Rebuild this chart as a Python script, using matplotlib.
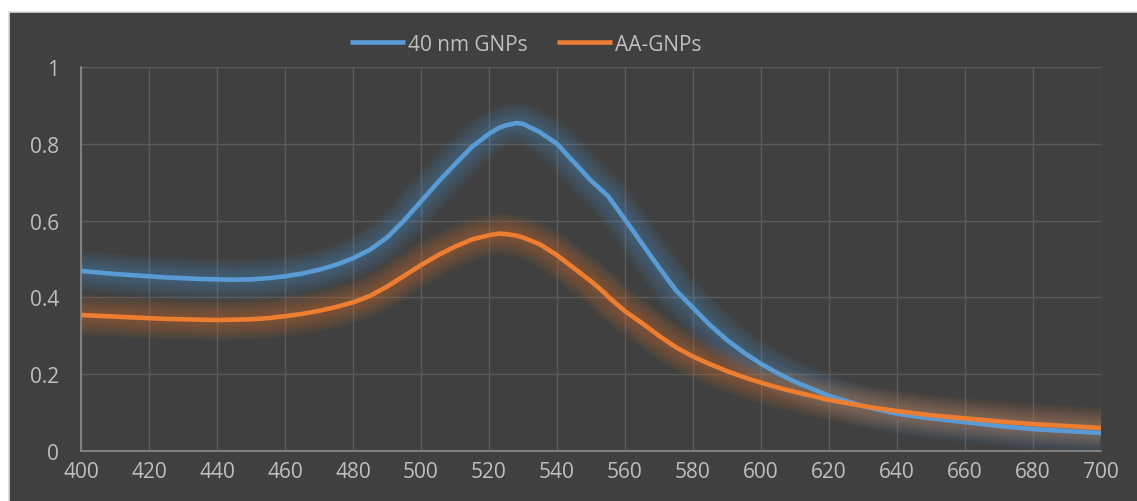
import numpy as np
import matplotlib.pyplot as plt
from matplotlib.patches import Rectangle

# Absorbance spectra (wavelength in nm)
wavelength = [400, 405, 410, 415, 420, 425, 430, 435, 440, 445, 450, 455, 460, 465,
              470, 475, 480, 485, 490, 495, 500, 505, 510, 515, 520, 523, 525, 528,
              530, 535, 540, 545, 550, 554, 555, 560, 565, 570, 575, 580, 585, 590,
              595, 600, 605, 610, 620, 630, 640, 650, 660, 670, 680, 690, 700]
gnp_40nm = [0.469, 0.465, 0.461, 0.458, 0.455, 0.452, 0.450, 0.448, 0.447, 0.446, 0.447, 0.450,
            0.455, 0.462, 0.472, 0.485, 0.502, 0.524, 0.556, 0.600, 0.650, 0.700, 0.747, 0.792,
            0.826, 0.842, 0.848, 0.854, 0.852, 0.830, 0.800, 0.752, 0.704, 0.672, 0.664, 0.603,
            0.540, 0.478, 0.418, 0.373, 0.328, 0.289, 0.256, 0.227, 0.202, 0.180, 0.144, 0.117,
            0.097, 0.085, 0.075, 0.065, 0.057, 0.052, 0.047]
aa_gnp = [0.354, 0.352, 0.350, 0.348, 0.346, 0.344, 0.343, 0.342, 0.341, 0.342, 0.343, 0.346,
          0.351, 0.357, 0.365, 0.375, 0.387, 0.404, 0.428, 0.456, 0.484, 0.510, 0.532, 0.551,
          0.562, 0.566, 0.565, 0.561, 0.556, 0.538, 0.510, 0.476, 0.442, 0.412, 0.402, 0.364,
          0.333, 0.300, 0.270, 0.246, 0.226, 0.208, 0.192, 0.178, 0.165, 0.154, 0.133, 0.117,
          0.104, 0.093, 0.085, 0.077, 0.070, 0.065, 0.060]

series_names = ['40 nm GNPs', 'AA-GNPs']
series_colors = ['#5b9bd5', '#ed7d31']

plt.rcParams['font.family'] = ['Open Sans', 'DejaVu Sans']

fig = plt.figure(figsize=(11.37, 5.02), dpi=100, facecolor='white')

# dark chart area with a thin light border, kept behind the axes
fig.patches.append(Rectangle((9 / 1137, -0.01), 1.0, (502 - 13) / 502 + 0.01,
                             transform=fig.transFigure, facecolor='#404040',
                             edgecolor='#d9d9d9', lw=1.2, zorder=-10))

ax = fig.add_axes([81 / 1137, 50 / 502, 1020 / 1137, 384 / 502])
ax.set_facecolor('none')

for vals, name, color in zip([gnp_40nm, aa_gnp], series_names, series_colors):
    # soft glow around each line: stacked wide, faint strokes
    for w in np.linspace(30, 7, 12):
        ax.plot(wavelength, vals, color=color, lw=w, alpha=0.035,
                solid_capstyle='butt', solid_joinstyle='round', zorder=2)
    ax.plot(wavelength, vals, color=color, lw=3.3, label=name,
            solid_capstyle='butt', solid_joinstyle='round', zorder=3)

ax.set_xlim(400, 700)
ax.set_ylim(0, 1)
ax.set_xticks(np.arange(400, 701, 20))
ax.set_yticks(np.arange(0, 1.01, 0.2))
ax.set_yticklabels(['0', '0.2', '0.4', '0.6', '0.8', '1'])
ax.grid(True, color='#5a5a5a', lw=1)
ax.set_axisbelow(True)
ax.tick_params(length=0, colors='#bfbfbf', labelsize=15)
ax.tick_params(axis='x', pad=7)
ax.tick_params(axis='y', pad=16)
for side in ['top', 'right']:
    ax.spines[side].set_visible(False)
for side in ['left', 'bottom']:
    ax.spines[side].set_color('#8c8c8c')
    ax.spines[side].set_linewidth(1.2)

fig.legend(loc='center', bbox_to_anchor=(0.4626, 0.91), ncol=2, frameon=False,
           fontsize=15, labelcolor='#bfbfbf', handlelength=2.65, handletextpad=0.15,
           columnspacing=1.4)

fig.savefig('out.png', dpi=100, facecolor='white')
